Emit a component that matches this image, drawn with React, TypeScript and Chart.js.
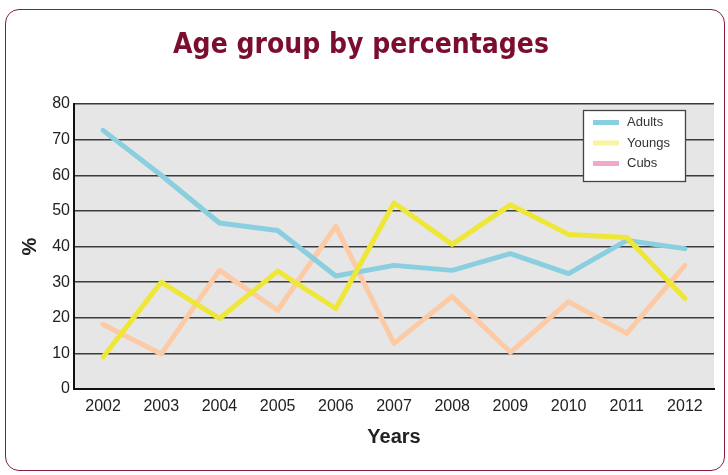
import React, { useEffect, useRef } from 'react';
import { Chart, registerables } from 'chart.js';

Chart.register(...registerables);

const years = ['2002', '2003', '2004', '2005', '2006', '2007', '2008', '2009', '2010', '2011', '2012'];
const adults = [72.6, 60, 46.6, 44.5, 31.7, 34.7, 33.3, 38, 32.4, 41.7, 39.4];
const youngs = [9, 30, 19.8, 33.1, 22.6, 52.2, 40.6, 51.7, 43.4, 42.5, 25.4];
const cubs = [18.1, 9.8, 33.3, 22.1, 45.7, 12.8, 26, 10.3, 24.5, 15.6, 34.7];
const seriesNames = ['Adults', 'Youngs', 'Cubs'];
const lineColors = ['#89cfdf', '#efe737', '#fdcaa6'];
const legendSwatches = ['#88d0e0', '#faf3a0', '#f4a7c9'];
const yMin = 0;
const yMax = 80;
const yStep = 10;

const chartTitle = 'Age group by percentages';
const xTitle = 'Years';
const yTitle = '%';

const NARROW = '"Liberation Sans Narrow", "Liberation Sans", Arial, sans-serif';
const SANS = '"Liberation Sans", Arial, sans-serif';

const plotBgPlugin = {
  id: 'plotBg',
  beforeDraw(chart: any) {
    const { ctx, chartArea } = chart;
    ctx.save();
    ctx.fillStyle = '#e5e6e5';
    ctx.fillRect(chartArea.left, chartArea.top, chartArea.right - chartArea.left, chartArea.bottom - chartArea.top);
    ctx.restore();
  },
};

const boxLegendPlugin = {
  id: 'boxLegend',
  afterDraw(chart: any) {
    const { ctx, chartArea } = chart;
    const w = 102;
    const h = 71;
    const x = chartArea.right - 29 - w;
    const y = chartArea.top + 6;
    ctx.save();
    ctx.fillStyle = '#ffffff';
    ctx.fillRect(x, y, w, h);
    ctx.strokeStyle = '#444444';
    ctx.lineWidth = 1.3;
    ctx.strokeRect(x + 0.5, y + 0.5, w, h);
    ctx.font = '13px ' + SANS;
    ctx.textBaseline = 'middle';
    ctx.textAlign = 'left';
    seriesNames.forEach((n, i) => {
      const cy = y + 12.5 + i * 20.5;
      ctx.fillStyle = legendSwatches[i];
      ctx.fillRect(x + 10, cy - 2.5, 26, 5);
      ctx.fillStyle = '#333333';
      ctx.fillText(n, x + 44, cy);
    });
    ctx.restore();
  },
};

export default function App() {
  const canvasRef = useRef<HTMLCanvasElement | null>(null);

  useEffect(() => {
    if (!canvasRef.current) return;
    const seriesData = [adults, youngs, cubs];
    const orders = [2, 1, 3];
    const chart = new Chart(canvasRef.current, {
      type: 'line',
      data: {
        labels: years,
        datasets: seriesNames.map((name, i) => ({
          label: name,
          data: seriesData[i],
          borderColor: lineColors[i],
          backgroundColor: lineColors[i],
          borderWidth: 5,
          borderCapStyle: 'round',
          borderJoinStyle: 'round',
          pointRadius: 0,
          tension: 0,
          fill: false,
          order: orders[i],
        })),
      },
      options: {
        animation: false,
        responsive: true,
        maintainAspectRatio: false,
        layout: { padding: { top: 14, left: 8, right: 14, bottom: 0 } },
        plugins: {
          legend: { display: false },
          tooltip: { enabled: false },
          title: {
            display: true,
            text: chartTitle,
            color: '#7b0d2e',
            font: { family: '"DejaVu Sans Condensed", "DejaVu Sans", sans-serif', size: 28, weight: 'bold' },
            padding: { top: 15, bottom: 41.4 },
          },
        },
        scales: {
          x: {
            offset: true,
            grid: { display: false, drawTicks: false },
            border: { display: true, color: '#111111', width: 2 },
            ticks: { color: '#222222', font: { family: NARROW, size: 16 }, padding: 8, maxRotation: 0, autoSkip: false },
            title: {
              display: true,
              text: xTitle,
              color: '#222222',
              font: { family: SANS, size: 20, weight: 'bold' },
              padding: { top: 0, bottom: 26 },
            },
            afterFit(scale: any) {
              scale.height = 86;
            },
          },
          y: {
            min: yMin,
            max: yMax,
            grid: { color: '#3c3c3c', lineWidth: 1.5, drawTicks: false },
            border: { display: true, color: '#111111', width: 2 },
            ticks: { stepSize: yStep, color: '#222222', font: { family: NARROW, size: 16 }, padding: 4 },
            title: {
              display: true,
              text: yTitle,
              color: '#222222',
              font: { family: SANS, size: 20, weight: 'bold' },
              padding: { top: 10, bottom: 0 },
            },
            afterFit(scale: any) {
              scale.width = 66;
            },
          },
        },
      } as any,
      plugins: [plotBgPlugin, boxLegendPlugin],
    });
    return () => chart.destroy();
  }, []);

  return (
    <>
      <div style={{ position: 'fixed', left: 0, top: 0, width: 728, height: 475, background: '#ffffff' }}>
        <canvas ref={canvasRef} />
      </div>
      <div
        style={{
          position: 'fixed',
          left: 5,
          top: 9,
          width: 720,
          height: 462,
          boxSizing: 'border-box',
          border: '1.5px solid #8c1c42',
          borderRadius: 14,
          pointerEvents: 'none',
        }}
      />
    </>
  );
}
